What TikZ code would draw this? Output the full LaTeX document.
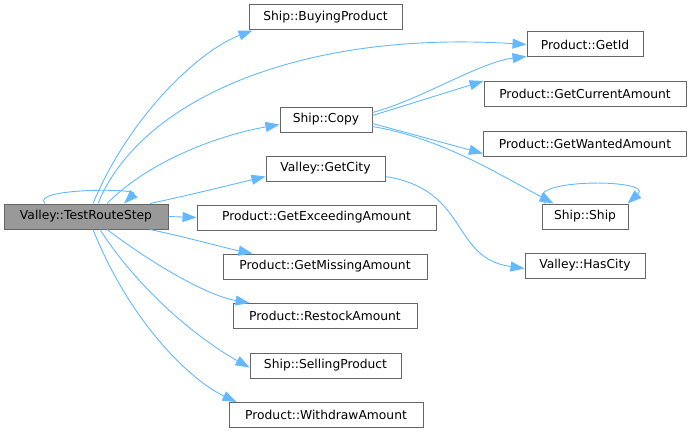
\documentclass[tikz,border=0pt]{standalone}
\usepackage{fontspec}
\setmainfont{DejaVu Sans}
\usepackage{tikz}
\usetikzlibrary{arrows.meta,positioning}

\definecolor{edgeblue}{HTML}{63B8FF}
\definecolor{boxline}{HTML}{666666}
\definecolor{boxfill}{HTML}{999999}

\begin{document}
\begin{tikzpicture}[
    x=1pt, y=-1pt,
    box/.style={rectangle, draw=boxline, line width=1pt, fill=white, minimum height=25pt, inner sep=0pt, font=\fontsize{12.3}{14}\selectfont},
    edge/.style={draw=edgeblue, line width=0.9pt, -{Triangle[length=14pt,width=10pt]}}
]
    \useasboundingbox (0,0) rectangle (692,433);

    % caller
    \node[box, fill=boxfill, minimum width=164pt] (test_route) at (86,216.5) {Valley::TestRouteStep};

    % first level
    \node[box, minimum width=153pt] (buying) at (325.5,17.5) {Ship::BuyingProduct};
    \node[box, minimum width=92pt] (ship_copy) at (326,119.5) {Ship::Copy};
    \node[box, minimum width=119pt] (get_city) at (325.5,168.5) {Valley::GetCity};
    \node[box, minimum width=239pt] (get_exceeding) at (316.5,217.5) {Product::GetExceedingAmount};
    \node[box, minimum width=204pt] (get_missing) at (325,266.5) {Product::GetMissingAmount};
    \node[box, minimum width=184pt] (restock) at (325,316) {Product::RestockAmount};
    \node[box, minimum width=151pt] (selling) at (325.5,365.5) {Ship::SellingProduct};
    \node[box, minimum width=194pt] (withdraw) at (326,415) {Product::WithdrawAmount};

    % second level
    \node[box, minimum width=116pt] (get_id) at (585,44.5) {Product::GetId};
    \node[box, minimum width=202pt] (get_current) at (585,94) {Product::GetCurrentAmount};
    \node[box, minimum width=203pt] (get_wanted) at (585,143.5) {Product::GetWantedAmount};
    \node[box, minimum width=86pt] (ship_ctor) at (585,216.5) {Ship::Ship};
    \node[box, minimum width=120pt] (has_city) at (585,265.5) {Valley::HasCity};

    % calls from TestRouteStep
    \draw[edge] ([xshift=-41pt]test_route.north) .. controls (30,188) and (140,188) .. ([xshift=38pt]test_route.north);
    \draw[edge] ([xshift=7pt]test_route.north) .. controls (130,115) and (200,50) .. ([xshift=4pt]buying.south west);
    \draw[edge] ([xshift=12pt]test_route.north) .. controls (140,100) and (300,30) .. (get_id.west);
    \draw[edge] ([xshift=21pt]test_route.north) .. controls (150,160) and (220,135) .. ([yshift=-5pt]ship_copy.west);
    \draw[edge] ([xshift=64pt]test_route.north) .. controls (190,195) and (230,185) .. ([yshift=-8pt]get_city.west);
    \draw[edge] (test_route.east) -- (get_exceeding.west);
    \draw[edge] ([xshift=64pt]test_route.south) .. controls (190,238) and (225,248) .. ([xshift=30pt]get_missing.north west);
    \draw[edge] ([xshift=21pt]test_route.south) .. controls (150,262) and (205,295) .. ([xshift=17pt]restock.north west);
    \draw[edge] ([xshift=14pt]test_route.south) .. controls (140,292) and (200,340) .. ([yshift=-2pt]selling.west);
    \draw[edge] ([xshift=7pt]test_route.south) .. controls (130,322) and (190,380) .. ([xshift=8pt]withdraw.north west);

    % calls from Ship::Copy
    \draw[edge] ([yshift=7pt]ship_copy.east) .. controls (420,100) and (480,62) .. ([yshift=-12pt]get_id.west);
    \draw[edge] ([yshift=4pt]ship_copy.east) -- ([yshift=13pt]get_current.west);
    \draw[edge] ([yshift=-4pt]ship_copy.east) -- ([yshift=-10pt]get_wanted.west);
    \draw[edge] ([yshift=-7pt]ship_copy.east) .. controls (440,138) and (495,172) .. ([xshift=12pt]ship_ctor.north west);
    \draw[edge] ([xshift=4pt]ship_ctor.north west) .. controls (516,178) and (656,178) .. ([xshift=-1pt]ship_ctor.north east);

    % call from GetCity
    \draw[edge] ([yshift=-8pt]get_city.east) .. controls (470,190) and (450,258) .. ([yshift=-3pt]has_city.west);
\end{tikzpicture}
\end{document}
